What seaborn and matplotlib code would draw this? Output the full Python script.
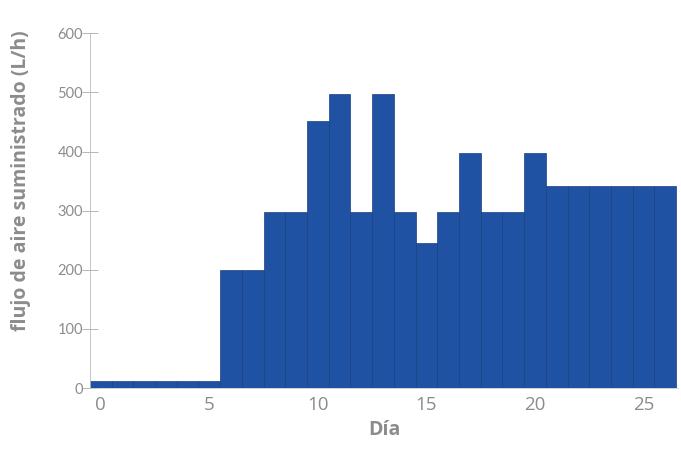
import numpy as np
import pandas as pd
import matplotlib
matplotlib.use("Agg")
import matplotlib.pyplot as plt
import seaborn as sns

# daily air flow supplied (L/h)
dias = list(range(27))
flujo = [12, 12, 12, 12, 12, 12,
         200, 200, 297, 297, 452, 497, 297, 497, 297, 245, 297,
         397, 297, 297, 397, 342, 342, 342, 342, 342, 342]
xticks = [0, 5, 10, 15, 20, 25]
yticks = [0, 100, 200, 300, 400, 500, 600]

df = pd.DataFrame({"Día": dias, "flujo": flujo})

sns.set_style("white")
plt.rcParams["font.family"] = ["Open Sans", "DejaVu Sans"]

gris = "#8c8c8c"
azul = "#1f52a3"

fig = plt.figure(figsize=(6.81, 4.55), dpi=100)
ax = fig.add_axes([0.132, 0.147, 0.864, 0.78])

sns.barplot(data=df, x="Día", y="flujo", color=azul, width=1.0,
            edgecolor="#1a3f80", linewidth=0.5, saturation=1, ax=ax)

ax.set_xlim(-0.5, 26.6)
ax.set_ylim(0, 600)
ax.set_xticks(xticks)
ax.set_xticklabels([str(t) for t in xticks], fontsize=13.5, color=gris)
ax.set_yticks(yticks)
ax.set_yticklabels([str(t) for t in yticks], family=["Liberation Sans Narrow", "Lato"],
                   fontsize=10.5, color=gris)
ax.tick_params(axis="y", left=True, direction="inout", length=12, width=0.7,
               color="#b5b5b5", pad=-1)
ax.tick_params(axis="x", length=0, pad=6)

ax.set_xlabel("Día", fontsize=14, fontweight="bold", color=gris, labelpad=4)
ax.set_ylabel("flujo de aire suministrado (L/h)", fontsize=14,
              fontweight="bold", color=gris)
ax.yaxis.set_label_coords(-0.1, 0.585)

for s in ["top", "right"]:
    ax.spines[s].set_visible(False)
ax.spines["left"].set_color("#bbbbbb")
ax.spines["left"].set_linewidth(0.6)
ax.spines["bottom"].set_color("#cccccc")
ax.spines["bottom"].set_linewidth(0.6)

fig.savefig("out.png", dpi=100)
